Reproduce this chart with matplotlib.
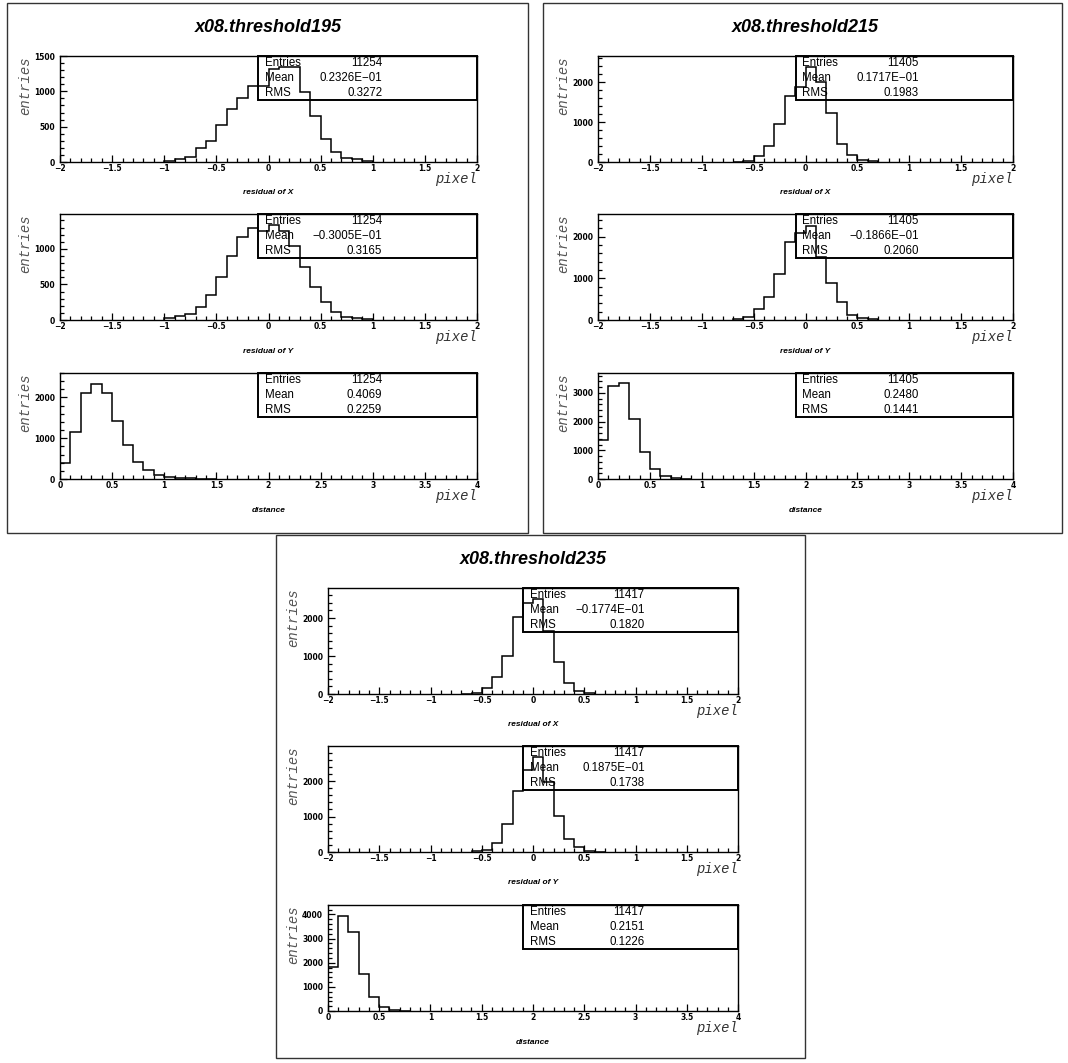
import numpy as np
import matplotlib
matplotlib.use("Agg")
import matplotlib.pyplot as plt
from matplotlib.patches import Rectangle
from matplotlib.ticker import MultipleLocator, FuncFormatter

W, H = 1068, 1063
BIN = 0.1

# counts per 0.1 bin, starting at the given low edge
res_x_195_lo = -1.0
res_x_195 = [15, 42, 75, 200, 300, 520, 750, 905, 1070, 1075, 1320, 1350, 1350, 985, 645, 330, 140, 60, 40, 12]
res_y_195_lo = -1.0
res_y_195 = [24, 52, 85, 184, 354, 604, 901, 1170, 1297, 1250, 1340, 1250, 1047, 745, 462, 250, 108, 47, 24, 10]
dist_195 = [392, 1143, 2106, 2335, 2106, 1420, 824, 408, 212, 98, 49, 25, 15, 8, 3]

res_x_215_lo = -0.7
res_x_215 = [8, 34, 151, 403, 950, 1664, 1890, 2395, 2000, 1235, 462, 176, 42, 15]
res_y_215_lo = -0.7
res_y_215 = [24, 72, 256, 560, 1104, 1872, 2096, 2256, 1520, 896, 424, 128, 48, 16]
dist_215 = [1354, 3244, 3337, 2077, 957, 350, 93, 35, 12]

res_x_235_lo = -0.7
res_x_235 = [10, 35, 157, 437, 1013, 2035, 2393, 2489, 1650, 847, 297, 87, 26]
res_y_235_lo = -0.6
res_y_235 = [15, 47, 256, 777, 1725, 2322, 2673, 1962, 1014, 379, 133, 38, 10]
dist_235 = [1807, 3945, 3255, 1531, 579, 166, 55, 14]

titles = ["x08.threshold195", "x08.threshold215", "x08.threshold235"]
stats_195 = [("11254", "0.2326E\u221201", "0.3272"),
             ("11254", "\u22120.3005E\u221201", "0.3165"),
             ("11254", "0.4069", "0.2259")]
stats_215 = [("11405", "0.1717E\u221201", "0.1983"),
             ("11405", "\u22120.1866E\u221201", "0.2060"),
             ("11405", "0.2480", "0.1441")]
stats_235 = [("11417", "\u22120.1774E\u221201", "0.1820"),
             ("11417", "0.1875E\u221201", "0.1738"),
             ("11417", "0.2151", "0.1226")]
ymax_195 = [1500, 1490, 2600]
ymax_215 = [2660, 2540, 3690]
ymax_235 = [2790, 2990, 4390]
sublabels = ["residual of X", "residual of Y", "distance"]

fig = plt.figure(figsize=(W / 100, H / 100), dpi=100)
fig.patch.set_facecolor("white")


def fx(x):
    return x / W


def fy(y):
    return 1 - y / H


def fmt(v, pos):
    s = "%g" % v
    return s.replace("-", "\u2212")


def draw_hist(left, right, top, lo, counts, xr, ymax, stats):
    ax = fig.add_axes([fx(left), fy(top + 106), fx(right - left), 106 / H])
    edges = lo + BIN * np.arange(len(counts) + 1)
    ax.stairs(counts, edges, color="black", lw=1.1, baseline=0, zorder=3)
    ax.set_xlim(*xr)
    ax.set_ylim(0, ymax)
    ax.xaxis.set_major_locator(MultipleLocator(0.5))
    ax.xaxis.set_minor_locator(MultipleLocator(0.1))
    if ymax <= 1500:
        ax.yaxis.set_major_locator(MultipleLocator(500))
        ax.yaxis.set_minor_locator(MultipleLocator(100))
    else:
        ax.yaxis.set_major_locator(MultipleLocator(1000))
        ax.yaxis.set_minor_locator(MultipleLocator(200))
    ax.xaxis.set_major_formatter(FuncFormatter(fmt))
    ax.yaxis.set_major_formatter(FuncFormatter(fmt))
    ax.tick_params(which="both", direction="in", width=0.9, labelsize=5.5)
    ax.tick_params(axis="x", pad=1.5)
    ax.tick_params(axis="y", pad=3.5)
    ax.tick_params(which="major", length=5)
    ax.tick_params(which="minor", length=2.8)
    for lab in ax.get_xticklabels() + ax.get_yticklabels():
        lab.set_fontweight("bold")
    for sp in ax.spines.values():
        sp.set_linewidth(1.0)
    ax.text(-35 / (right - left), 1.0, "entries", rotation=90, ha="center", va="top",
            transform=ax.transAxes, family="Liberation Mono", style="italic",
            fontsize=10, color="#555555")
    ax.text(1.0, -17 / 106, "pixel", ha="right", va="center", transform=ax.transAxes,
            family="Liberation Mono", style="italic", fontsize=10, color="#333333")
    # stats box
    bx, bh = 0.476, 0.415
    ax.add_patch(Rectangle((bx, 1 - bh), 1 - bx, bh, transform=ax.transAxes,
                           fill=False, lw=1.4, ec="black", zorder=4, clip_on=False))
    bw = 1 - bx
    names = ["Entries", "Mean", "RMS"]
    for k in range(3):
        yy = 1 - bh * (1 + 2 * k) / 6
        ax.text(bx + 0.032 * bw, yy, names[k], transform=ax.transAxes, ha="left",
                va="center", fontsize=8.3, family="Liberation Sans", zorder=5)
        ax.text(bx + 0.566 * bw, yy, stats[k], transform=ax.transAxes, ha="right",
                va="center", fontsize=8.3, family="Liberation Sans", zorder=5)
    return ax


panels = [
    (7, 3, 528, 533, 60, 477, 0, titles[0], [res_x_195, res_y_195, dist_195],
     [res_x_195_lo, res_y_195_lo, 0.0], ymax_195, stats_195),
    (543, 3, 1062, 533, 598, 1013, 0, titles[1], [res_x_215, res_y_215, dist_215],
     [res_x_215_lo, res_y_215_lo, 0.0], ymax_215, stats_215),
    (276, 535, 805, 1058, 328, 738, 532, titles[2], [res_x_235, res_y_235, dist_235],
     [res_x_235_lo, res_y_235_lo, 0.0], ymax_235, stats_235),
]

for (x0, y0, x1, y1, left, right, dy, title, data, los, ymaxs, stats) in panels:
    fig.add_artist(Rectangle((fx(x0), fy(y1)), fx(x1 - x0), (y1 - y0) / H,
                             transform=fig.transFigure, fill=False, lw=1.0, ec="#333333"))
    cx = (left + right) / 2
    fig.text(fx(cx), fy(27 + dy), title, ha="center", va="center", fontsize=13,
             fontweight="bold", style="italic", family="Liberation Sans")
    tops = [56, 214, 373]
    labys = [192, 351, 510]
    for i in range(3):
        xr = (-2, 2) if i < 2 else (0, 4)
        draw_hist(left, right, tops[i] + dy, los[i], data[i], xr, ymaxs[i], stats[i])
        fig.text(fx(cx), fy(labys[i] + dy), sublabels[i], ha="center", va="center",
                 fontsize=6, fontweight="bold", style="italic", family="Liberation Sans")

fig.savefig("out.png", dpi=100)
